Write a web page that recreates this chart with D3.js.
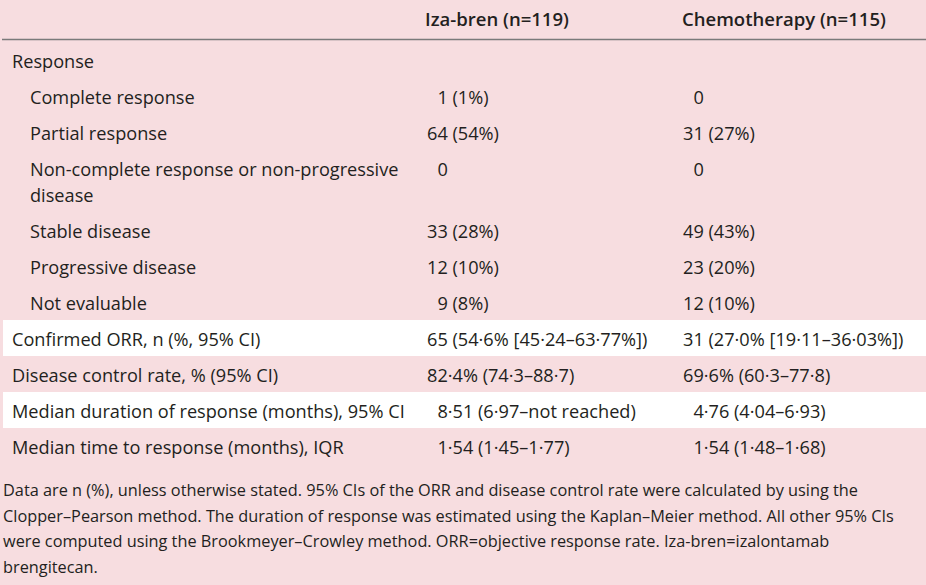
<!DOCTYPE html>
<html>
<head>
<meta charset="utf-8">
<script src="https://cdn.jsdelivr.net/npm/d3@7/dist/d3.min.js"></script>
<style>
	body { margin: 0; background: #f7dde0; }
	text { white-space: pre; }
</style>
</head>
<body>
<div id="container"></div>
<script>
	var WIDTH = 926;
	var HEIGHT = 585;
	var FONT = "'Open Sans', 'DejaVu Sans', sans-serif";
	var FIG = "\u2007"; // figure space, keeps the digits lined up

	var columns = ["Iza-bren (n=119)", "Chemotherapy (n=115)"];

	var rowLabels = [
		["Response"],
		["Complete response"],
		["Partial response"],
		["Non-complete response or non-progressive", "disease"],
		["Stable disease"],
		["Progressive disease"],
		["Not evaluable"],
		["Confirmed ORR, n (%, 95% CI)"],
		["Disease control rate, % (95% CI)"],
		["Median duration of response (months), 95% CI"],
		["Median time to response (months), IQR"]
	];
	var indented = [false, true, true, true, true, true, true, false, false, false, false];
	var whiteRows = [false, false, false, false, false, false, false, true, false, true, false];

	var izaValues = [
		"",
		FIG + "1 (1%)",
		"64 (54%)",
		FIG + "0",
		"33 (28%)",
		"12 (10%)",
		FIG + "9 (8%)",
		"65 (54·6% [45·24–63·77%])",
		"82·4% (74·3–88·7)",
		FIG + "8·51 (6·97–not reached)",
		FIG + "1·54 (1·45–1·77)"
	];
	var chemoValues = [
		"",
		FIG + "0",
		"31 (27%)",
		FIG + "0",
		"49 (43%)",
		"23 (20%)",
		"12 (10%)",
		"31 (27·0% [19·11–36·03%])",
		"69·6% (60·3–77·8)",
		FIG + "4·76 (4·04–6·93)",
		FIG + "1·54 (1·48–1·68)"
	];

	var footnote = [
		"Data are n (%), unless otherwise stated. 95% CIs of the ORR and disease control rate were calculated by using the",
		"Clopper–Pearson method. The duration of response was estimated using the Kaplan–Meier method. All other 95% CIs",
		"were computed using the Brookmeyer–Crowley method. ORR=objective response rate. Iza-bren=izalontamab",
		"brengitecan."
	];

	var INK = '#231f20';

	var svg = d3.select('#container')
		.append('svg')
		.attr('width', WIDTH)
		.attr('height', HEIGHT)
		.style('display', 'block');

	svg.append('rect')
		.attr('width', WIDTH)
		.attr('height', HEIGHT)
		.style('fill', '#f7dde0');

	// find the font size that gives a string a certain width
	var fitSize = function(str, target, weight){
		var t = svg.append('text')
			.style('font-family', FONT)
			.style('font-size', '100px')
			.style('font-weight', weight || 'normal')
			.text(str);
		var w = t.node().getComputedTextLength();
		t.remove();
		return 100 * target / w;
	};
	var bodySize = fitSize(rowLabels[9][0], 393);
	var headSize = fitSize(columns[1], 204, 600);
	var noteSize = fitSize(footnote[1], 892);

	// rows: 36px each, one more line adds 26px
	var LINE = 26, ROW = 36;
	var heights = rowLabels.map(function(d){ return ROW + LINE * (d.length - 1); });
	var tops = [0].concat(Array.from(d3.cumsum(heights)));
	var y = d3.scaleLinear().domain([0, tops[tops.length - 1]]).range([42, 464]);

	var x = d3.scaleOrdinal()
		.domain(['label', 'sub', 'iza', 'chemo'])
		.range([12, 30, 427, 683]);

	var rows = svg.selectAll('g.row')
		.data(rowLabels)
		.enter().append('g')
		.attr('class', 'row');

	rows.append('rect')
		.attr('x', 3)
		.attr('y', function(d,i){ return y(tops[i]); })
		.attr('width', WIDTH - 3)
		.attr('height', function(d,i){ return y(tops[i + 1]) - y(tops[i]); })
		.style('fill', function(d,i){ return whiteRows[i] ? '#ffffff' : 'none'; });

	var baseline = function(i, line){
		return y(tops[i]) + 19 + line * LINE + bodySize * 0.36;
	};

	rows.each(function(lines, i){
		var g = d3.select(this);
		lines.forEach(function(str, k){
			g.append('text')
				.attr('x', indented[i] ? x('sub') : x('label'))
				.attr('y', baseline(i, k))
				.text(str);
		});
		g.append('text')
			.attr('x', x('iza'))
			.attr('y', baseline(i, 0))
			.text(izaValues[i]);
		g.append('text')
			.attr('x', x('chemo'))
			.attr('y', baseline(i, 0))
			.text(chemoValues[i]);
	});

	rows.selectAll('text')
		.style('font-family', FONT)
		.style('font-size', bodySize + 'px')
		.style('fill', INK);

	// header
	svg.selectAll('text.head')
		.data(columns)
		.enter().append('text')
		.attr('class', 'head')
		.attr('x', function(d,i){ return i == 0 ? 425 : 682; })
		.attr('y', 26)
		.text(function(d){ return d; })
		.style('font-family', FONT)
		.style('font-weight', 600)
		.style('font-size', headSize + 'px')
		.style('fill', INK);

	svg.append('line')
		.attr('x1', 2)
		.attr('x2', WIDTH)
		.attr('y1', 39.5)
		.attr('y2', 39.5)
		.style('stroke', '#7a7a7a')
		.style('stroke-width', 1.3);

	// footnote
	svg.selectAll('text.note')
		.data(footnote)
		.enter().append('text')
		.attr('class', 'note')
		.attr('x', 3)
		.attr('y', function(d,i){ return 490 + i * 25.7 + noteSize * 0.36; })
		.text(function(d){ return d; })
		.style('font-family', FONT)
		.style('font-size', noteSize + 'px')
		.style('fill', INK);
</script>
</body>
</html>
